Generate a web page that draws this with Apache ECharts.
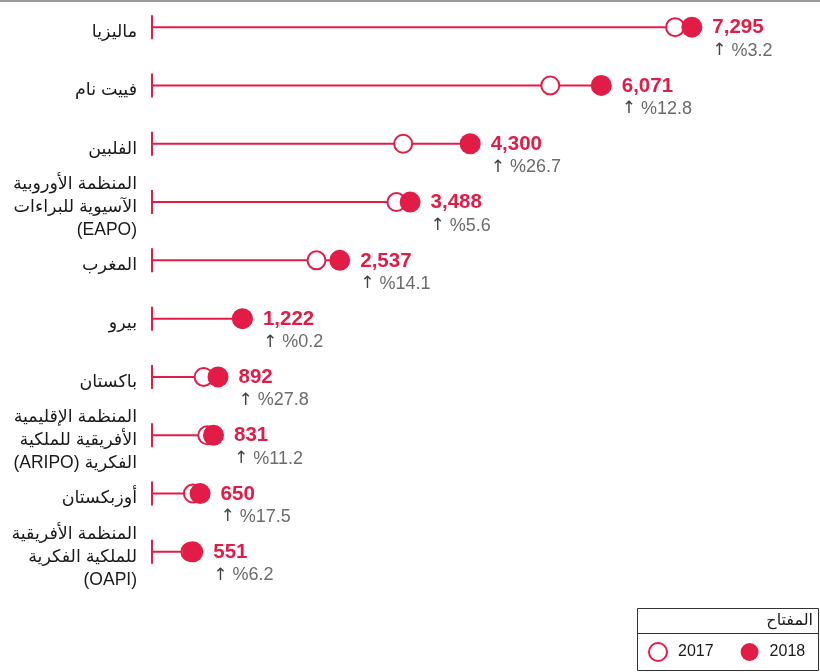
<!DOCTYPE html>
<html>
<head>
<meta charset="utf-8">
<script src="https://cdn.jsdelivr.net/npm/echarts@6/dist/echarts.min.js"></script>
<style>
  html, body { margin: 0; padding: 0; background: #fff; }
  #chart { width: 820px; height: 672px; }
</style>
</head>
<body>
<div id="chart"></div>
<script>
// الفئات (من الأعلى إلى الأسفل)
const categories = [
  'ماليزيا',
  'فييت نام',
  'الفلبين',
  'المنظمة الأوروبية\nالآسيوية للبراءات\n(EAPO)',
  'المغرب',
  'بيرو',
  'باكستان',
  'المنظمة الإقليمية\nالأفريقية للملكية\n(ARIPO) الفكرية',
  'أوزبكستان',
  'المنظمة الأفريقية\nللملكية الفكرية\n(OAPI)'
]

// القيم
const values2018 = [7295, 6071, 4300, 3488, 2537, 1222, 892, 831, 650, 551]
const values2017 = [7069, 5382, 3394, 3303, 2223, 1220, 698, 747, 553, 519]
const growth = [3.2, 12.8, 26.7, 5.6, 14.1, 0.2, 27.8, 11.2, 17.5, 6.2]

const RED = '#e31b47'
const FONT = '"Liberation Sans", "DejaVu Sans", sans-serif'

const chart = echarts.init(document.getElementById('chart'))

const fmt = v => v.toLocaleString('en-US')

const option = {
  animation: false,
  textStyle: { fontFamily: FONT },
  grid: {
    left: 152,
    right: 76,
    top: -2,
    height: 583,
    outerBoundsMode: 'none'
  },
  xAxis: {
    type: 'value',
    min: 0,
    max: 8000,
    show: false
  },
  yAxis: {
    type: 'category',
    inverse: true,
    data: categories,
    axisLine: { show: false },
    axisTick: { show: false },
    splitLine: { show: false },
    axisLabel: { show: false }
  },
  legend: {
    data: ['2017', '2018'],
    left: 648,
    top: 642,
    padding: 0,
    itemWidth: 18,
    itemHeight: 18,
    itemGap: 27,
    selectedMode: false,
    textStyle: {
      fontSize: 16,
      color: '#1a1a1a',
      fontFamily: FONT,
      padding: [0, 0, 0, 6]
    }
  },
  graphic: [
    {
      type: 'line',
      shape: { x1: 0, y1: 1, x2: 820, y2: 1 },
      style: { stroke: '#9a9a9a', lineWidth: 2 }
    },
    {
      type: 'rect',
      shape: { x: 637.5, y: 608.5, width: 181, height: 62 },
      style: { fill: 'none', stroke: '#333', lineWidth: 1 }
    },
    {
      type: 'line',
      shape: { x1: 637.5, y1: 633.5, x2: 818.5, y2: 633.5 },
      style: { stroke: '#333', lineWidth: 1 }
    },
    {
      type: 'text',
      right: 7,
      top: 613,
      style: {
        text: 'المفتاح',
        fontSize: 16,
        fill: '#1a1a1a',
        fontFamily: FONT
      }
    }
  ],
  series: [
    {
      // الخط من المحور إلى قيمة 2018
      type: 'bar',
      silent: true,
      z: 2,
      barWidth: 2,
      data: values2018,
      itemStyle: { color: RED }
    },
    {
      // علامة البداية عند الصفر + اسم الفئة
      type: 'scatter',
      silent: true,
      z: 2,
      symbol: 'rect',
      symbolSize: [2, 24],
      data: categories.map((c, i) => [0, i]),
      itemStyle: { color: RED, opacity: 1 },
      label: {
        show: true,
        position: 'left',
        distance: 14,
        offset: [0, 5],
        formatter: p => categories[p.dataIndex],
        color: '#1a1a1a',
        fontSize: 17.5,
        lineHeight: 23,
        align: 'right',
        fontFamily: FONT
      }
    },
    {
      name: '2017',
      type: 'scatter',
      silent: true,
      z: 3,
      symbol: 'circle',
      symbolSize: 18,
      data: values2017.map((v, i) => [v, i]),
      itemStyle: { color: '#fff', borderColor: RED, borderWidth: 2, opacity: 1 }
    },
    {
      name: '2018',
      type: 'scatter',
      silent: true,
      z: 4,
      symbol: 'circle',
      symbolSize: 21,
      data: values2018.map((v, i) => [v, i]),
      itemStyle: { color: RED, opacity: 1 },
      label: {
        show: true,
        position: 'right',
        distance: 10,
        offset: [0, 12],
        formatter: p => '{v|' + fmt(values2018[p.dataIndex]) + '}\n{a|↑}{p| %' + growth[p.dataIndex].toFixed(1) + '}',
        rich: {
          v: {
            fontSize: 20.5,
            fontWeight: 'bold',
            color: RED,
            lineHeight: 23,
            fontFamily: FONT
          },
          a: {
            fontSize: 17,
            color: '#444',
            lineHeight: 23,
            fontFamily: '"DejaVu Sans", sans-serif'
          },
          p: {
            fontSize: 18,
            color: '#6b6b6b',
            lineHeight: 23,
            fontFamily: FONT
          }
        }
      }
    }
  ]
}

chart.setOption(option)
</script>
</body>
</html>
